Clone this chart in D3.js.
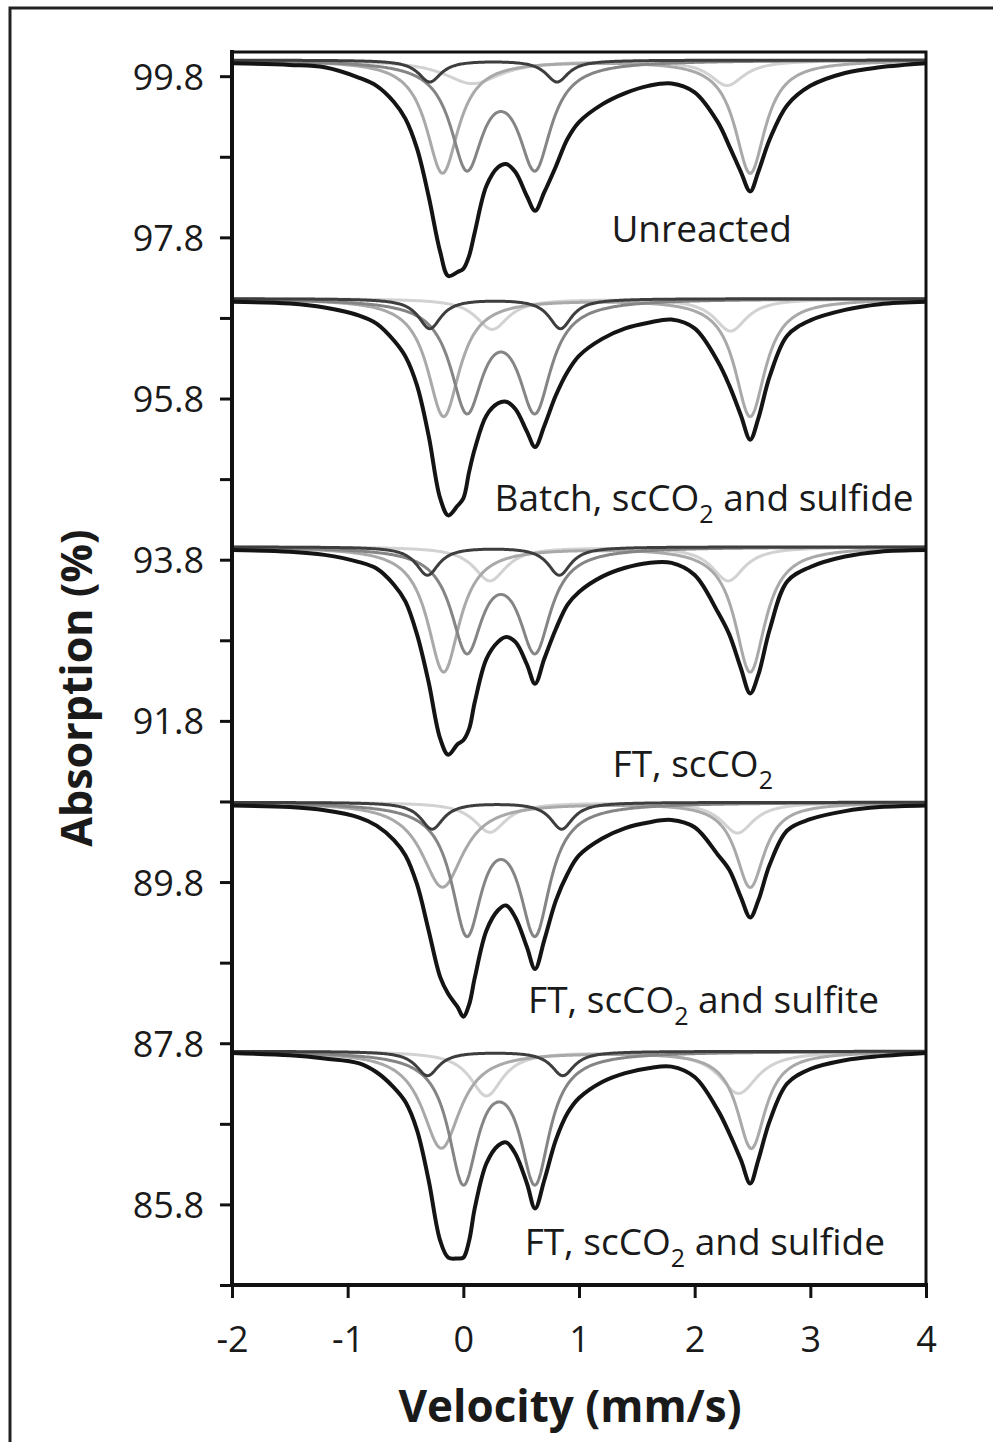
<!DOCTYPE html>
<html>
<head>
<meta charset="utf-8">
<script src="https://cdn.jsdelivr.net/npm/d3@7"></script>
<style>
body { margin: 0; background: #fff; }
text { font-family: "Open Sans", sans-serif; fill: #1a1a1a; }
</style>
</head>
<body>
<svg id="vis"></svg>
<script>
const WIDTH = 993;
const HEIGHT = 1442;

// panel labels, split as [before subscript, subscript, after]
var panelLabels = [
    ["Unreacted", "", ""],
    ["Batch, scCO", "2", " and sulfide"],
    ["FT, scCO", "2", ""],
    ["FT, scCO", "2", " and sulfite"],
    ["FT, scCO", "2", " and sulfide"]
];
// where the label sits (velocity, absorption)
var labelVel = [1.28, 0.27, 1.29, 0.56, 0.53];
var labelAbs = [97.74, 94.41, 91.10, 88.17, 85.17];

// baseline of each stacked spectrum (% axis)
var baselines = [100.0, 97.04, 93.96, 90.79, 87.70];

// measured spectra: depth below baseline (%) at these velocities (mm/s)
var velocity = [-2, -1.5, -1.2, -0.9, -0.75, -0.6, -0.5, -0.4, -0.3, -0.2, -0.13, -0.05, 0, 0.05, 0.1,
    0.2, 0.3, 0.37, 0.45, 0.55, 0.62, 0.7, 0.8, 0.9, 1.0, 1.2, 1.4, 1.6, 1.8, 2.0,
    2.2, 2.3, 2.4, 2.48, 2.55, 2.65, 2.8, 3.0, 3.3, 3.6, 4.0];
var depthUnreacted = [0.04, 0.06, 0.09, 0.22, 0.32, 0.52, 0.73, 1.10, 1.69, 2.38, 2.68, 2.63, 2.59, 2.43, 2.13,
    1.56, 1.33, 1.29, 1.39, 1.69, 1.87, 1.64, 1.32, 0.98, 0.77, 0.55, 0.41, 0.32, 0.29, 0.40,
    0.77, 1.07, 1.39, 1.63, 1.39, 0.98, 0.56, 0.32, 0.16, 0.09, 0.04];
var depthBatch = [0.04, 0.06, 0.11, 0.21, 0.31, 0.52, 0.72, 1.08, 1.70, 2.48, 2.69, 2.57, 2.48, 2.15, 1.86,
    1.45, 1.30, 1.28, 1.37, 1.65, 1.84, 1.58, 1.20, 0.91, 0.71, 0.50, 0.37, 0.30, 0.26, 0.37,
    0.78, 1.08, 1.45, 1.75, 1.49, 0.96, 0.46, 0.27, 0.14, 0.07, 0.04];
var depthFT = [0.04, 0.06, 0.10, 0.19, 0.27, 0.47, 0.68, 1.09, 1.68, 2.38, 2.58, 2.45, 2.40, 2.26, 1.92,
    1.39, 1.18, 1.12, 1.18, 1.46, 1.70, 1.39, 1.02, 0.72, 0.56, 0.37, 0.26, 0.20, 0.20, 0.35,
    0.81, 1.09, 1.51, 1.82, 1.59, 1.02, 0.43, 0.25, 0.12, 0.06, 0.04];
var depthFTSulfite = [0.04, 0.06, 0.10, 0.19, 0.29, 0.47, 0.66, 1.02, 1.59, 2.17, 2.38, 2.54, 2.66, 2.51, 2.17,
    1.59, 1.34, 1.28, 1.43, 1.80, 2.07, 1.71, 1.22, 0.89, 0.66, 0.45, 0.32, 0.25, 0.22, 0.31,
    0.65, 0.84, 1.18, 1.43, 1.22, 0.77, 0.35, 0.21, 0.11, 0.06, 0.04];
var depthFTSulfide = [0.02, 0.05, 0.09, 0.15, 0.26, 0.45, 0.63, 0.98, 1.60, 2.35, 2.56, 2.57, 2.56, 2.35, 1.94,
    1.39, 1.17, 1.13, 1.27, 1.64, 1.95, 1.60, 1.10, 0.77, 0.58, 0.38, 0.27, 0.21, 0.19, 0.32,
    0.73, 1.02, 1.35, 1.64, 1.35, 0.86, 0.40, 0.22, 0.11, 0.06, 0.02];

// fitted doublets, one row per panel:
// [centre 1, depth 1, half width 1, centre 2, depth 2, half width 2]  (mm/s, %, mm/s)
var doubletDark = [
    [-0.29, 0.27, 0.12, 0.81, 0.27, 0.12],
    [-0.29, 0.37, 0.12, 0.84, 0.37, 0.12],
    [-0.31, 0.35, 0.12, 0.83, 0.35, 0.12],
    [-0.27, 0.33, 0.12, 0.85, 0.33, 0.12],
    [-0.31, 0.30, 0.12, 0.86, 0.30, 0.12]
];
var doubletMid = [
    [0.03, 1.28, 0.17, 0.62, 1.28, 0.17],
    [0.03, 1.33, 0.17, 0.62, 1.33, 0.17],
    [0.03, 1.24, 0.165, 0.62, 1.24, 0.165],
    [0.03, 1.56, 0.16, 0.62, 1.56, 0.16],
    [0.00, 1.57, 0.155, 0.62, 1.57, 0.155]
];
var doubletPale = [
    [-0.18, 1.40, 0.17, 2.48, 1.40, 0.16],
    [-0.17, 1.46, 0.17, 2.48, 1.46, 0.16],
    [-0.17, 1.55, 0.17, 2.48, 1.55, 0.16],
    [-0.18, 1.05, 0.22, 2.48, 1.05, 0.15],
    [-0.19, 1.20, 0.20, 2.49, 1.20, 0.15]
];
var doubletLight = [
    [0.08, 0.29, 0.30, 2.28, 0.31, 0.18],
    [0.25, 0.38, 0.17, 2.31, 0.40, 0.17],
    [0.23, 0.42, 0.17, 2.29, 0.42, 0.17],
    [0.23, 0.37, 0.17, 2.37, 0.38, 0.17],
    [0.20, 0.55, 0.17, 2.38, 0.52, 0.20]
];

var xTicks = [-2, -1, 0, 1, 2, 3, 4];
var yTicks = [84.8, 85.8, 86.8, 87.8, 88.8, 89.8, 90.8, 91.8, 92.8, 93.8, 94.8, 95.8, 96.8, 97.8, 98.8, 99.8];
var yTickLabels = ["", "85.8", "", "87.8", "", "89.8", "", "91.8", "", "93.8", "", "95.8", "", "97.8", "", "99.8"];

window.onload = function() {
    setupVis();
};

// one Lorentzian line pair evaluated at velocity v
function doubletAt(row, v) {
    var a = row[1] / (1 + Math.pow((v - row[0]) / row[2], 2));
    var b = row[4] / (1 + Math.pow((v - row[3]) / row[5], 2));
    return a + b;
}

function setupVis() {
    let svg = d3.select("#vis")
        .attr("width", WIDTH)
        .attr("height", HEIGHT);

    let x = d3.scaleLinear().domain([-2, 4]).range([232, 926]);
    let y = d3.scaleLinear().domain([84.8, 100.1]).range([1285, 52]);

    // outer frame of the figure
    svg.append("path")
        .attr("d", "M10," + HEIGHT + "V8H" + WIDTH)
        .attr("fill", "none")
        .attr("stroke", "#222")
        .attr("stroke-width", 3);

    var measured = [depthUnreacted, depthBatch, depthFT, depthFTSulfite, depthFTSulfide];
    var vel = d3.range(-2, 4.0001, 0.01);
    var comps = [
        {rows: doubletLight, color: "#d2d2d2"},
        {rows: doubletPale, color: "#a9a9a9"},
        {rows: doubletMid, color: "#858585"},
        {rows: doubletDark, color: "#3e3e3e"}
    ];

    var line = d3.line()
        .x(function(d) { return x(d[0]); })
        .y(function(d) { return y(d[1]); });
    var dataLine = d3.line()
        .x(function(d) { return x(d[0]); })
        .y(function(d) { return y(d[1]); })
        .curve(d3.curveCatmullRom.alpha(0.5));

    for (var p = 0; p < baselines.length; p++) {
        var g = svg.append("g");
        var base = baselines[p];
        comps.forEach(function(c) {
            var row = c.rows[p];
            g.append("path")
                .datum(vel.map(function(v) { return [v, base - doubletAt(row, v)]; }))
                .attr("d", line)
                .attr("fill", "none")
                .attr("stroke", c.color)
                .attr("stroke-width", 3);
        });
        var depth = measured[p];
        g.append("path")
            .datum(velocity.map(function(v, i) { return [v, base - depth[i]]; }))
            .attr("d", dataLine)
            .attr("fill", "none")
            .attr("stroke", "#141414")
            .attr("stroke-width", 4);

        var lab = svg.append("text")
            .attr("x", x(labelVel[p]))
            .attr("y", y(labelAbs[p]))
            .attr("font-size", "37px");
        lab.append("tspan").text(panelLabels[p][0]);
        if (panelLabels[p][1] !== "") {
            lab.append("tspan").attr("dy", 12).attr("font-size", "25px").text(panelLabels[p][1]);
            lab.append("tspan").attr("dy", -12).text(panelLabels[p][2]);
        }
    }

    // plot frame
    svg.append("rect")
        .attr("x", 232).attr("y", 52)
        .attr("width", 926 - 232).attr("height", 1285 - 52)
        .attr("fill", "none")
        .attr("stroke", "#111")
        .attr("stroke-width", 3);
    svg.append("line")
        .attr("x1", 232).attr("x2", 232).attr("y1", 50).attr("y2", 1287)
        .attr("stroke", "#111").attr("stroke-width", 4);
    svg.append("line")
        .attr("x1", 230).attr("x2", 928).attr("y1", 1285).attr("y2", 1285)
        .attr("stroke", "#111").attr("stroke-width", 4);

    let yAxis = svg.append("g")
        .attr("transform", "translate(232,0)")
        .call(d3.axisLeft(y).tickValues(yTicks).tickSize(12).tickSizeOuter(0)
            .tickFormat(function(d, i) { return yTickLabels[i]; }));
    yAxis.select(".domain").remove();
    yAxis.selectAll(".tick line").attr("stroke", "#111").attr("stroke-width", 3);
    yAxis.selectAll(".tick text")
        .attr("x", -28)
        .attr("dy", "0.36em")
        .attr("font-size", "36px")
        .attr("font-family", "Open Sans")
        .attr("fill", "#1a1a1a");

    let xAxis = svg.append("g")
        .attr("transform", "translate(0,1285)")
        .call(d3.axisBottom(x).tickValues(xTicks).tickSize(13).tickSizeOuter(0)
            .tickFormat(function(d) { return d; }));
    xAxis.select(".domain").remove();
    xAxis.selectAll(".tick line").attr("stroke", "#111").attr("stroke-width", 3);
    xAxis.selectAll(".tick text")
        .attr("y", 67)
        .attr("dy", 0)
        .attr("font-size", "36px")
        .attr("font-family", "Open Sans")
        .attr("fill", "#1a1a1a");

    svg.append("text")
        .attr("transform", "translate(92,688) rotate(-90)")
        .attr("text-anchor", "middle")
        .attr("font-size", "43px")
        .attr("font-weight", "bold")
        .text("Absorption (%)");

    svg.append("text")
        .attr("x", 570)
        .attr("y", 1422)
        .attr("text-anchor", "middle")
        .attr("font-size", "44px")
        .attr("font-weight", "bold")
        .text("Velocity (mm/s)");
}
</script>
</body>
</html>
